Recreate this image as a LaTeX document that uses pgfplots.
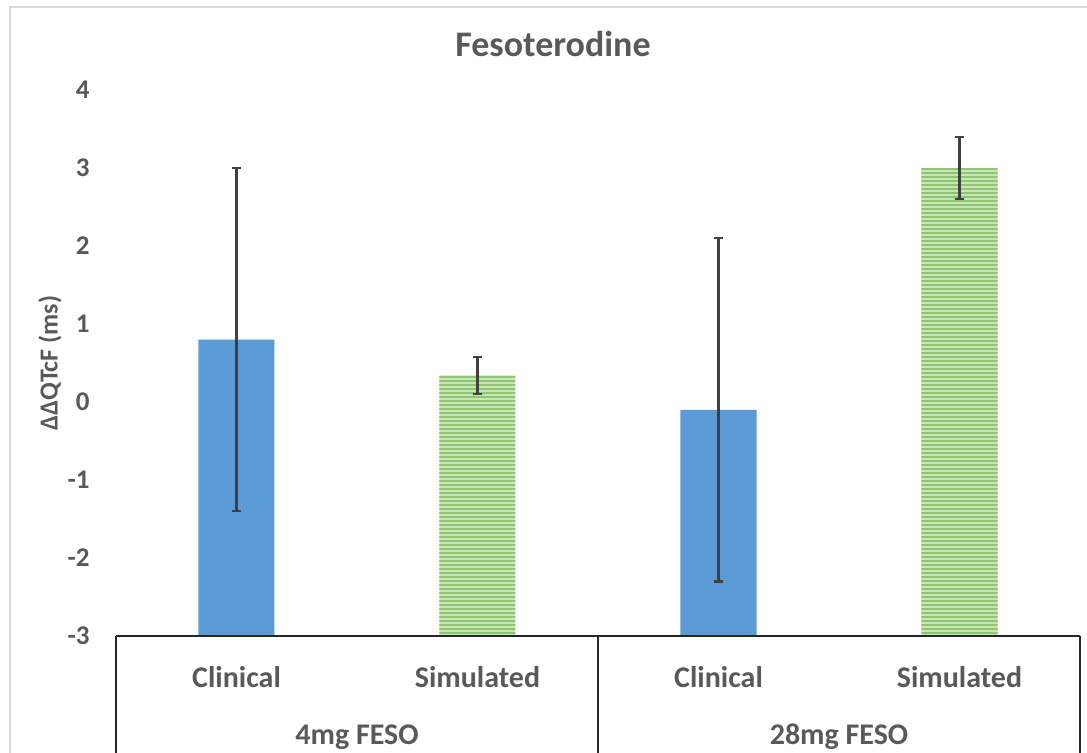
\documentclass[border=0pt]{standalone}
\usepackage{fontspec}
\setmainfont{Carlito}
\usepackage{pgfplots}
\usepackage{pgfplotstable}
\pgfplotsset{compat=1.18}
\usetikzlibrary{patterns.meta}

\definecolor{txt}{HTML}{595959}
\definecolor{clin}{HTML}{5B9BD5}
\definecolor{simfill}{HTML}{CAE4BA}
\definecolor{simline}{HTML}{90C472}
\definecolor{errc}{HTML}{404040}
\definecolor{frame}{HTML}{D9D9D9}

% mean and asymmetric error (plus / minus) for each group
\pgfplotstableread{
x y ep em
0 0.8 2.2 2.2
2 -0.1 2.2 2.2
}\clinical
\pgfplotstableread{
x y ep em
1 0.34 0.24 0.24
3 3.0 0.4 0.4
}\simulated

\pgfplotsset{
  errstyle/.style={draw=none, mark=none,
    error bars/.cd, y dir=both, y explicit, error mark=|,
    error bar style={draw=errc, line width=1.2pt},
    error mark options={draw=errc, line width=1.2pt, mark size=2.2pt}},
  barstyle/.style={ybar, bar width=38pt, bar shift=0pt},
}

\begin{document}
\begin{tikzpicture}
\begin{axis}[
  at={(0,0)}, anchor=south west,
  scale only axis, width=482pt, height=273pt,
  xmin=-0.5, xmax=3.5, ymin=-3, ymax=4,
  % bars rise from the bottom of the value axis (-3)
  y coord trafo/.code={\pgfmathparse{#1+3}},
  y coord inv trafo/.code={\pgfmathparse{#1-3}},
  axis line style={draw=none},
  major tick length=0pt,
  ytick={-3,-2,-1,0,1,2,3,4},
  yticklabels={-3,-2,-1,0,1,2,3,4},
  xtick={0,1,2,3},
  xticklabels={Clinical,Simulated,Clinical,Simulated},
  yticklabel style={font=\bfseries\fontsize{13.5}{16}\selectfont, text=txt, anchor=east, inner sep=0pt, xshift=-13pt},
  xticklabel style={font=\bfseries\fontsize{15}{18}\selectfont, text=txt, anchor=center, yshift=-20.5pt},
  clip=false,
]
\addplot[barstyle, fill=clin, draw=none] table[x=x, y=y] {\clinical};
\addplot[barstyle, fill=simfill, draw=none] table[x=x, y=y] {\simulated};
\addplot[barstyle, draw=none, pattern={Lines[angle=0, distance=2pt, line width=0.9pt]}, pattern color=simline] table[x=x, y=y] {\simulated};

% error bars
\addplot[errstyle] table[x=x, y=y, y error plus=ep, y error minus=em] {\clinical};
\addplot[errstyle] table[x=x, y=y, y error plus=ep, y error minus=em] {\simulated};
\end{axis}

% category table below the bars (axis box: 482pt x 273pt, 120.5pt per category)
\draw[line width=1pt, black!85] (0,0) -- (482pt,0);
\draw[line width=1pt, black!85] (0,0) -- (0,-80pt);
\draw[line width=1pt, black!85] (241pt,0) -- (241pt,-80pt);
\draw[line width=1pt, black!85] (482pt,0) -- (482pt,-80pt);
\node[text=txt, font=\bfseries\fontsize{15}{18}\selectfont] at (120.5pt,-50.5pt) {4mg FESO};
\node[text=txt, font=\bfseries\fontsize{15}{18}\selectfont] at (361.5pt,-50.5pt) {28mg FESO};

\node[text=txt, font=\bfseries\fontsize{18}{22}\selectfont] at (218.5pt,296pt) {Fesoterodine};
\node[text=txt, font=\bfseries\fontsize{13}{16}\selectfont, rotate=90] at (-33pt,136.5pt) {ΔΔQTcF (ms)};

\draw[frame, line width=0.75pt] (-53pt,-80pt) rectangle (500pt,314.5pt);

\pgfresetboundingbox
\path[use as bounding box] (-58pt,-58.5pt) rectangle (485.5pt,318pt);
\end{tikzpicture}
\end{document}
